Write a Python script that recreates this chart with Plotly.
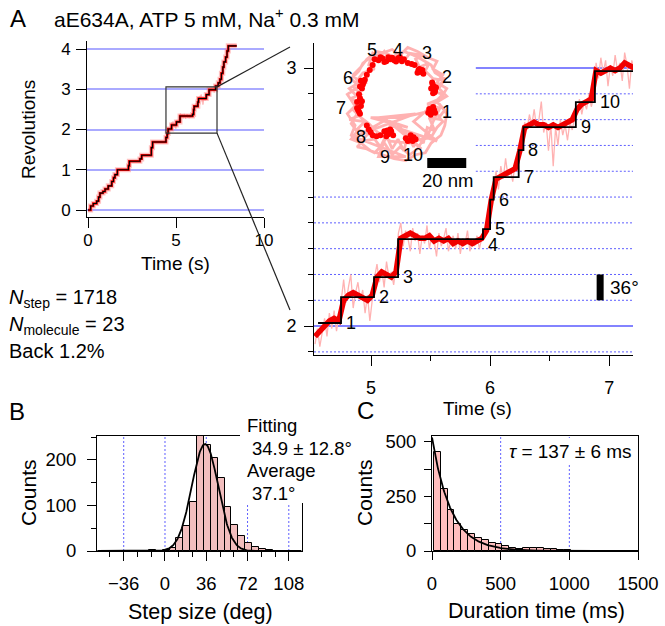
import numpy as np
import plotly.graph_objects as go

W, H = 665, 626
FONT = "Liberation Sans, Arial, Helvetica, sans-serif"


def PX(x):
    return x / W


def PY(y):
    return 1 - y / H


# ------------------------------------------------------------------ data
# Panel A: step trajectory (time s, revolutions)
step_t = [0.00, 0.15, 0.30, 0.49, 0.60, 0.68, 0.85, 0.97, 1.15, 1.35, 1.45, 1.53, 1.67,
          2.30, 2.35, 2.95, 3.05, 3.60, 3.67, 4.43, 4.50, 4.555, 4.748, 5.025, 5.227,
          5.94, 6.00, 6.03, 6.24, 6.28, 6.72, 6.88, 7.25, 7.40, 7.50, 7.58, 7.66, 7.72,
          7.82, 7.90, 7.97, 8.45]
step_rev = [0.00, 0.10, 0.16, 0.22, 0.32, 0.42, 0.46, 0.52, 0.60, 0.71, 0.80, 0.88, 1.00,
            1.10, 1.21, 1.27, 1.36, 1.55, 1.69, 1.80, 1.90, 2.012, 2.112, 2.19, 2.337,
            2.376, 2.49, 2.577, 2.682, 2.771, 2.868, 2.988, 3.08, 3.16, 3.25, 3.40, 3.55, 3.68,
            3.80, 3.95, 4.08, 4.08]

# raw (pale) trace in the zoomed window, sampled every 0.02 s from 4.53 s
raw_t0, raw_dt = 4.53, 0.02
raw_rev = [1.93, 1.99, 1.92, 1.98, 2.03, 1.96, 2.05, 1.99, 2.06, 1.98, 2.04,
           2.10, 2.18, 2.09, 2.15, 2.20, 2.07, 2.13, 2.17, 2.10, 2.14, 2.05, 2.12, 2.02, 2.10,
           2.19, 2.24, 2.17, 2.22, 2.15, 2.25, 2.19, 2.21, 2.16, 2.23,
           2.36, 2.40, 2.31, 2.37, 2.34, 2.29, 2.38, 2.33, 2.36, 2.28, 2.35, 2.32, 2.39, 2.30,
           2.35, 2.33, 2.27, 2.36, 2.31, 2.34, 2.38, 2.29, 2.33, 2.35, 2.30, 2.36, 2.28, 2.34,
           2.32, 2.37, 2.29, 2.33, 2.31, 2.35, 2.30, 2.34,
           2.38, 2.36, 2.42, 2.49,
           2.54, 2.60, 2.53, 2.62, 2.57, 2.65, 2.58, 2.61, 2.56, 2.63, 2.60,
           2.68, 2.70,
           2.79, 2.76, 2.82, 2.78, 2.84, 2.77, 2.80, 2.87, 2.75, 2.79, 2.68, 2.78, 2.62, 2.77,
           2.70, 2.80, 2.74, 2.78, 2.72, 2.79, 2.76, 2.81,
           2.83, 2.88, 2.82, 2.87, 2.84, 2.90, 2.85, 2.89,
           3.02, 2.96, 3.04, 2.98, 3.03, 2.93, 3.01, 2.97, 3.05, 2.99, 3.02, 2.95, 3.06, 3.01,
           2.92, 3.03, 2.99]

# smoothed (red) trace, every 0.04 s from 4.53 s
smooth_t0, smooth_dt = 4.53, 0.04
smooth_rev = [1.96, 1.98, 2.00, 2.02, 2.03, 2.02,
              2.10,
              2.12, 2.13, 2.12, 2.11, 2.10, 2.12,
              2.19, 2.21, 2.20, 2.19, 2.21,
              2.34, 2.35, 2.36, 2.35, 2.34, 2.34, 2.35, 2.33, 2.34, 2.33, 2.34, 2.32, 2.33,
              2.32, 2.33, 2.32, 2.33, 2.34,
              2.37, 2.49,
              2.57, 2.58, 2.59, 2.60, 2.61,
              2.68,
              2.77, 2.78, 2.79, 2.78, 2.78, 2.77, 2.78, 2.77, 2.78, 2.79, 2.80,
              2.84, 2.86, 2.87, 2.88,
              2.99, 2.98, 2.99, 3.00, 2.99, 3.00, 3.02, 3.01, 3.00]

zoom_t = [4.43, 7.33]
zoom_rev = [1.91, 3.06]
win_t = [4.55, 7.21]

grid_dotted = [1.9, 2.1, 2.2, 2.3, 2.4, 2.5, 2.6, 2.7, 2.8, 2.9, 3.1]
grid_solid = [2.0, 3.0]

# inset x-y trajectory (nm)
ring_x = [17, 21, 15, 20, 23, 17, 21, 24, 18, 14, 16, 11, 9, 13, 6, 3, 0, -4, -7, -10,
          -13, -15, -12, -18, -21, -16, -22, -19, -24, -18, -23, -20, -25, -17, -21, -15, -19, -12, -9, -6,
          -3, 0, 3, 5, 8, 10, 13, 15, 19, 16, 22, 19,
          2, -14, 5, -10, 9, -18, -2, 12, -6, -22, 4, -10, -4, 20, 8,
          22, 25, 20, 23, 18, 20, 15, 10, 5, 1, -3, -9, -14, -18, -20, -24, -20, -26, -22, -26,
          -22, -24, -18, -14, -8, -2, 4, 9, 14, 17, 22, 24, 25, 22, 18, 15, 6, -4, -11, -15,
          -19, -21, -24, -21, -24, -19, -21, -16, -12, -7, -3, 1, 6, 10, 13, 17, 20, 23,
          21, 24, 20, 25, 21, 24, 19, 17, 12, 8, 3, -2, -6, -11, -16, -19, -23, -20, -25, -21]
ring_y = [-3, -1, 1, 3, 6, 8, 11, 13, 14, 18, 22, 20, 24, 26, 27, 23, 27, 24, 28, 24,
          27, 21, 19, 17, 13, 12, 9, 6, 4, 1, -2, -5, -7, -8, -12, -14, -18, -17, -21, -15,
          -22, -17, -23, -15, -21, -16, -19, -11, -13, -6, -7, -2,
          -6, -6, -11, -6, -4, -14, -8, -22, -7, -16, -26, -26, -10, -18, -8,
          4, 9, 12, 16, 19, 23, 25, 28, 30, 26, 29, 27, 25, 22, 18, 14, 10, 6, 0, -4,
          -10, -15, -20, -23, -25, -27, -28, -25, -24, -19, -15, -10, -4, 0, -8, -16, -19, -18, -13, -9,
          -6, -4, -9, -13, -17, -19, -21, -22, -24, -19, -25, -21, -25, -22, -17, -16, -11, -8,
          -6, -2, 2, 5, 9, 14, 17, 21, 24, 26, 28, 25, 27, 28, 24, 20, 16, 12, 9, 5]
dot_x = [-12, -10, -8, -6, -4, -2, 0, 2, 3, -9, -5, -1, 1, -7, -3,
         -13, -14.5, -16, 5, 7, 8.5,
         10.5, 12, 11, 13, 12.5, 10,
         17.5, 18.5, 19, 18, 19.5, 17.8, 18.8, 17,
         16, 17.5, 18.5, 16.8, 18, 15.5, 19,
         4, 6, 8, 6.5, 5, 7.5, 9,
         -7, -5, -3.5, -6, -4, -2.5, -5.5,
         -16, -15, -13, -11, -9, -14,
         -20, -19.5, -21, -19, -20.5, -19.5, -21, -18.5, -20,
         -19, -18, -19.5, -17.5, -18.5, -17]
dot_y = [24, 23.5, 24.5, 23, 24, 23.5, 24.5, 23, 24, 25, 25, 22.8, 25, 22.5, 24.8,
         21, 18.5, 16, 22, 21.5, 21,
         18.5, 17.5, 19, 16.5, 18.5, 17,
         12, 10, 8, 6.5, 9.5, 11, 7, 9,
         -1.5, -3, -2, -4.5, -0.5, -3.5, -3.5,
         -16.5, -17.5, -16, -15, -18, -18, -17,
         -13, -14.5, -13, -15.5, -12, -15, -12.5,
         -10, -12, -15, -15.5, -15, -13.5,
         6, 4, 2, 0, -2, -4, -1, 2.5, -3,
         13, 11, 10, 12.5, 9, 13.5]
ring_lbl = ["1", "2", "3", "4", "5", "6", "7", "8", "9", "10"]
ring_lbl_x = [25.1, 25.1, 14.9, 0.0, -13.3, -25.6, -29.2, -19.0, -6.7, 7.7]
ring_lbl_y = [-3.1, 14.9, 27.2, 28.7, 28.7, 14.4, -1.0, -15.9, -26.2, -25.1]

# Panel B: step size histogram
b_centers = [-17, -11, -5, 1, 7, 13, 19, 25, 31, 37, 43, 49, 55, 61, 67, 73, 79, 85, 91, 97]
b_counts = [1, 3, 1, 2, 7, 29, 54, 108, 260, 233, 205, 160, 97, 57, 33, 18, 8, 4, 3, 1]
b_bin = 6
b_fit_amp, b_fit_mean, b_fit_width = 235, 34.9, 11.5
b_guides = [-36, 0, 36, 72, 108]

# Panel C: dwell time histogram
c_centers = [38, 88, 138, 188, 238, 288, 338, 388, 438, 488, 538, 588, 638, 688, 738,
             788, 838, 888, 938, 988, 1038]
c_counts = [454, 286, 187, 122, 95, 80, 61, 49, 37, 31, 24, 15, 11, 15, 14, 12, 9, 8, 5, 3, 2]
c_bin = 50
c_fit_amp, c_tau = 520, 137
c_guides = [500, 1000]

# ------------------------------------------------------------------ figure
PINK = "rgb(255,178,178)"
RED = "rgb(240,0,0)"
GRIDBLUE = "rgb(95,95,255)"

raw_t = np.round(raw_t0 + raw_dt * np.arange(len(raw_rev)), 3)
smooth_t = np.round(smooth_t0 + smooth_dt * np.arange(len(smooth_rev)), 3)

fig = go.Figure()

# small overview
fig.add_trace(go.Scatter(x=raw_t, y=raw_rev, mode="lines", line=dict(color=PINK, width=1),
                         xaxis="x", yaxis="y"))
fig.add_trace(go.Scatter(x=step_t, y=step_rev, mode="lines",
                         line=dict(color="rgba(255,120,120,0.45)", width=5, shape="hv"),
                         xaxis="x", yaxis="y"))
fig.add_trace(go.Scatter(x=step_t, y=step_rev, mode="lines",
                         line=dict(color=RED, width=2.4, shape="hv"), xaxis="x", yaxis="y"))
fig.add_trace(go.Scatter(x=step_t, y=step_rev, mode="lines",
                         line=dict(color="black", width=1.1, shape="hv"), xaxis="x", yaxis="y"))

# zoomed trace
fig.add_trace(go.Scatter(x=raw_t, y=raw_rev, mode="lines", line=dict(color=PINK, width=1.3),
                         xaxis="x2", yaxis="y2"))
fig.add_trace(go.Scatter(x=smooth_t, y=smooth_rev, mode="lines", line=dict(color=RED, width=5.5),
                         xaxis="x2", yaxis="y2"))
bt = [t for t in step_t if win_t[0] <= t < win_t[1]]
br = [r for t, r in zip(step_t, step_rev) if win_t[0] <= t < win_t[1]]
fig.add_trace(go.Scatter(x=bt + [win_t[1]], y=br + [br[-1]], mode="lines",
                         line=dict(color="black", width=1.8, shape="hv"), xaxis="x2", yaxis="y2"))

# inset ring
fig.add_trace(go.Scatter(x=ring_x, y=ring_y, mode="lines", line=dict(color=PINK, width=2.8),
                         xaxis="x5", yaxis="y5"))
fig.add_trace(go.Scatter(x=dot_x, y=dot_y, mode="markers",
                         marker=dict(color="red", size=6, line=dict(width=0)),
                         xaxis="x5", yaxis="y5"))

# histogram B
fig.add_trace(go.Bar(x=b_centers, y=b_counts, width=b_bin,
                     marker=dict(color="rgb(242,190,190)", line=dict(color="black", width=1)),
                     xaxis="x3", yaxis="y3"))
gx = np.linspace(-59, 119, 400)
fig.add_trace(go.Scatter(x=gx, y=b_fit_amp * np.exp(-(gx - b_fit_mean) ** 2 / (2 * b_fit_width ** 2)),
                         mode="lines", line=dict(color="black", width=1.8), xaxis="x3", yaxis="y3"))

# histogram C
fig.add_trace(go.Bar(x=c_centers, y=c_counts, width=c_bin,
                     marker=dict(color="rgb(255,190,190)", line=dict(color="black", width=1)),
                     xaxis="x4", yaxis="y4"))
ex = np.linspace(0, 1500, 400)
fig.add_trace(go.Scatter(x=ex, y=c_fit_amp * np.exp(-ex / c_tau), mode="lines",
                         line=dict(color="black", width=1.8), xaxis="x4", yaxis="y4"))


def ax(**kw):
    d = dict(showline=True, linecolor="black", linewidth=1, ticks="outside", tickcolor="black",
             tickwidth=1, showgrid=False, zeroline=False, fixedrange=True, automargin=False,
             tickfont=dict(size=17, color="black", family=FONT))
    d.update(kw)
    return d


S = 20 / 39  # nm per pixel in the inset
IX0, IX1, IY0, IY1, ICX, ICY = 330, 480, 35, 195, 398, 106
A_XR = [-0.057, 10.0]
A_YR = [-0.174, 4.2]

fig.update_layout(
    width=W, height=H, margin=dict(l=0, r=0, t=0, b=0, pad=0, autoexpand=False), autosize=False,
    paper_bgcolor="white", plot_bgcolor="rgba(0,0,0,0)", showlegend=False,
    font=dict(family=FONT, color="black"),
    xaxis=ax(domain=[PX(87), PX(264)], range=A_XR, tickvals=[0, 5, 10], ticklen=10,
             anchor="y", ticklabelstandoff=-2),
    yaxis=ax(domain=[PY(217), PY(41)], range=A_YR, tickvals=[0, 1, 2, 3, 4], ticklen=10,
             showgrid=True, gridcolor="rgb(170,170,255)", gridwidth=1.5, anchor="x",
             ticklabelstandoff=2),
    xaxis2=ax(domain=[PX(314), PX(633)], range=[4.521, 7.2], tickvals=[5, 6, 7], ticklen=10,
              minor=dict(tickvals=[4.5, 5.5, 6.5], ticklen=5, ticks="outside", tickcolor="black"),
              anchor="y2", ticklabelstandoff=6, tickfont=dict(size=18, color="black", family=FONT)),
    yaxis2=ax(domain=[PY(355), PY(43)], range=[1.888, 3.097], tickvals=[2, 3], ticklen=9,
              minor=dict(dtick=0.1, tick0=0, ticklen=5, ticks="outside", tickcolor="black"),
              anchor="x2", ticklabelstandoff=4, tickfont=dict(size=18, color="black", family=FONT)),
    xaxis3=ax(domain=[PX(97), PX(302)], range=[-59.3, 119.5], tickvals=b_guides, ticklen=9,
              minor=dict(dtick=12, tick0=0, ticklen=5, ticks="outside", tickcolor="black"),
              mirror=True, anchor="y3", ticklabelstandoff=7,
              tickfont=dict(size=18.5, color="black", family=FONT)),
    yaxis3=ax(domain=[PY(551), PY(436)], range=[0, 252.7], tickvals=[0, 100, 200], ticklen=9,
              minor=dict(tickvals=[50, 150, 250], ticklen=5, ticks="outside", tickcolor="black"),
              mirror=True, anchor="x3", ticklabelstandoff=7,
              tickfont=dict(size=18.5, color="black", family=FONT)),
    xaxis4=ax(domain=[PX(432), PX(638)], range=[0, 1500], tickvals=[0, 500, 1000, 1500],
              ticklen=8, mirror=True, anchor="y4", ticklabelstandoff=8,
              tickfont=dict(size=18.5, color="black", family=FONT)),
    yaxis4=ax(domain=[PY(551), PY(436)], range=[0, 527], tickvals=[0, 250, 500],
              minor=dict(tickvals=[125, 375], ticklen=7, ticks="outside", tickcolor="black"),
              ticklen=7, mirror=True, anchor="x4",
              ticklabelstandoff=4, tickfont=dict(size=18.5, color="black", family=FONT)),
    xaxis5=dict(domain=[PX(IX0), PX(IX1)], range=[(IX0 - ICX) * S, (IX1 - ICX) * S],
                visible=False, anchor="y5", fixedrange=True, automargin=False),
    yaxis5=dict(domain=[PY(IY1), PY(IY0)], range=[(ICY - IY1) * S, (ICY - IY0) * S],
                visible=False, anchor="x5", fixedrange=True, automargin=False),
    bargap=0,
)

shapes = []
dotline = dict(color=GRIDBLUE, width=1, dash="2px,2px")
# gridlines of zoomed panel
for lv in grid_dotted:
    x0 = 5.88 if lv > 2.55 else 4.521
    shapes.append(dict(type="line", xref="x2", yref="y2", x0=x0, x1=7.2, y0=lv, y1=lv,
                       line=dotline, layer="below"))
for lv in grid_solid:
    x0 = 5.88 if lv > 2.55 else 4.521
    shapes.append(dict(type="line", xref="x2", yref="y2", x0=x0, x1=7.2, y0=lv, y1=lv,
                       line=dict(color="rgb(90,90,255)", width=1.5), layer="below"))
# 36 degree bar
shapes.append(dict(type="line", xref="x2", yref="y2", x0=6.924, x1=6.924, y0=2.1, y1=2.2,
                   line=dict(color="black", width=7)))
# 20 nm bar
shapes.append(dict(type="rect", xref="x5", yref="y5", x0=15, x1=35, y0=-31.8, y1=-26.7,
                   fillcolor="black", line=dict(width=0)))
# zoom box
shapes.append(dict(type="rect", xref="x", yref="y", x0=zoom_t[0], x1=zoom_t[1],
                   y0=zoom_rev[0], y1=zoom_rev[1], line=dict(color="#333333", width=1.2)))


def small_px(t, r):
    X = 87 + (t - A_XR[0]) / (A_XR[1] - A_XR[0]) * (264 - 87)
    Y = 217 - (r - A_YR[0]) / (A_YR[1] - A_YR[0]) * (217 - 41)
    return X, Y


cx, cy_top = small_px(zoom_t[1], zoom_rev[1])
_, cy_bot = small_px(zoom_t[1], zoom_rev[0])
shapes.append(dict(type="line", xref="paper", yref="paper", x0=PX(cx), y0=PY(cy_top),
                   x1=PX(290), y1=PY(47), line=dict(color="#222222", width=1.2)))
shapes.append(dict(type="line", xref="paper", yref="paper", x0=PX(cx), y0=PY(cy_bot),
                   x1=PX(290), y1=PY(310), line=dict(color="#222222", width=1.2)))
# guide lines in histograms
for g in b_guides:
    shapes.append(dict(type="line", xref="x3", yref="y3 domain", x0=g, x1=g, y0=0, y1=1,
                       line=dotline, layer="below"))
for g in c_guides:
    shapes.append(dict(type="line", xref="x4", yref="y4 domain", x0=g, x1=g, y0=0, y1=1,
                       line=dotline, layer="below"))
# white label backgrounds
shapes.append(dict(type="rect", xref="paper", yref="paper", x0=PX(240), x1=PX(352),
                   y0=PY(503), y1=PY(404), fillcolor="white", line=dict(width=0), layer="above"))
shapes.append(dict(type="rect", xref="paper", yref="paper", x0=PX(504), x1=PX(636),
                   y0=PY(463), y1=PY(438), fillcolor="white", line=dict(width=0), layer="above"))
fig.update_layout(shapes=shapes)

ann = []


def txt(x, y, s, size, xanchor="center", angle=0):
    ann.append(dict(x=PX(x), y=PY(y), xref="paper", yref="paper", text=s, showarrow=False,
                    xanchor=xanchor, yanchor="middle", textangle=angle,
                    font=dict(size=size, color="black", family=FONT)))


txt(18, 18, "A", 24)
txt(52, 18, "aE634A, ATP 5 mM, Na<sup>+</sup> 0.3 mM", 21, "left")
txt(28, 130, "Revolutions", 19, angle=-90)
txt(176, 263, "Time (s)", 19)
txt(7, 298, "<i>N</i><sub>step</sub> = 1718", 20, "left")
txt(7, 325, "<i>N</i><sub>molecule</sub> = 23", 20, "left")
txt(7, 351, "Back 1.2%", 20, "left")
txt(477, 408, "Time (s)", 19)
txt(608, 287, "36°", 19, "left")
txt(17, 411, "B", 24)
txt(365, 410, "C", 24)
txt(28, 493, "Counts", 21, angle=-90)
txt(200, 612, "Step size (deg)", 21.5)
txt(364, 493, "Counts", 21, angle=-90)
txt(536, 611, "Duration time (ms)", 21.5)
txt(245, 425, "Fitting", 18.5, "left")
txt(250, 448, "34.9 ± 12.8°", 18.5, "left")
txt(245, 470, "Average", 18.5, "left")
txt(250, 493, "37.1°", 18.5, "left")
txt(570, 451, "<i>τ</i> = 137 ± 6 ms", 19)

# step numbers in zoomed panel
step_lbl_dy = [0, 0, 0, -6, 0, 0, 0, 0, 0, 0]
k = 0
for i in range(1, len(step_t)):
    if 4.6 < step_t[i] < 7.0:
        ann.append(dict(x=step_t[i], y=step_rev[i - 1], xref="x2", yref="y2", text=str(k + 1),
                        showarrow=False, xanchor="left", yanchor="middle", xshift=3,
                        yshift=step_lbl_dy[k], font=dict(size=18, color="black", family=FONT)))
        k += 1
# ring labels
for s, x, y in zip(ring_lbl, ring_lbl_x, ring_lbl_y):
    ann.append(dict(x=x, y=y, xref="x5", yref="y5", text=s, showarrow=False,
                    font=dict(size=18, color="black", family=FONT)))
ann.append(dict(x=25.5, y=-38.0, xref="x5", yref="y5", text="20 nm", showarrow=False,
                font=dict(size=18.5, color="black", family=FONT)))
fig.update_layout(annotations=ann)

fig.write_html("out.html", config={"responsive": False, "displayModeBar": False},
               post_script="document.body.style.margin='0px';document.body.style.padding='0px';")
